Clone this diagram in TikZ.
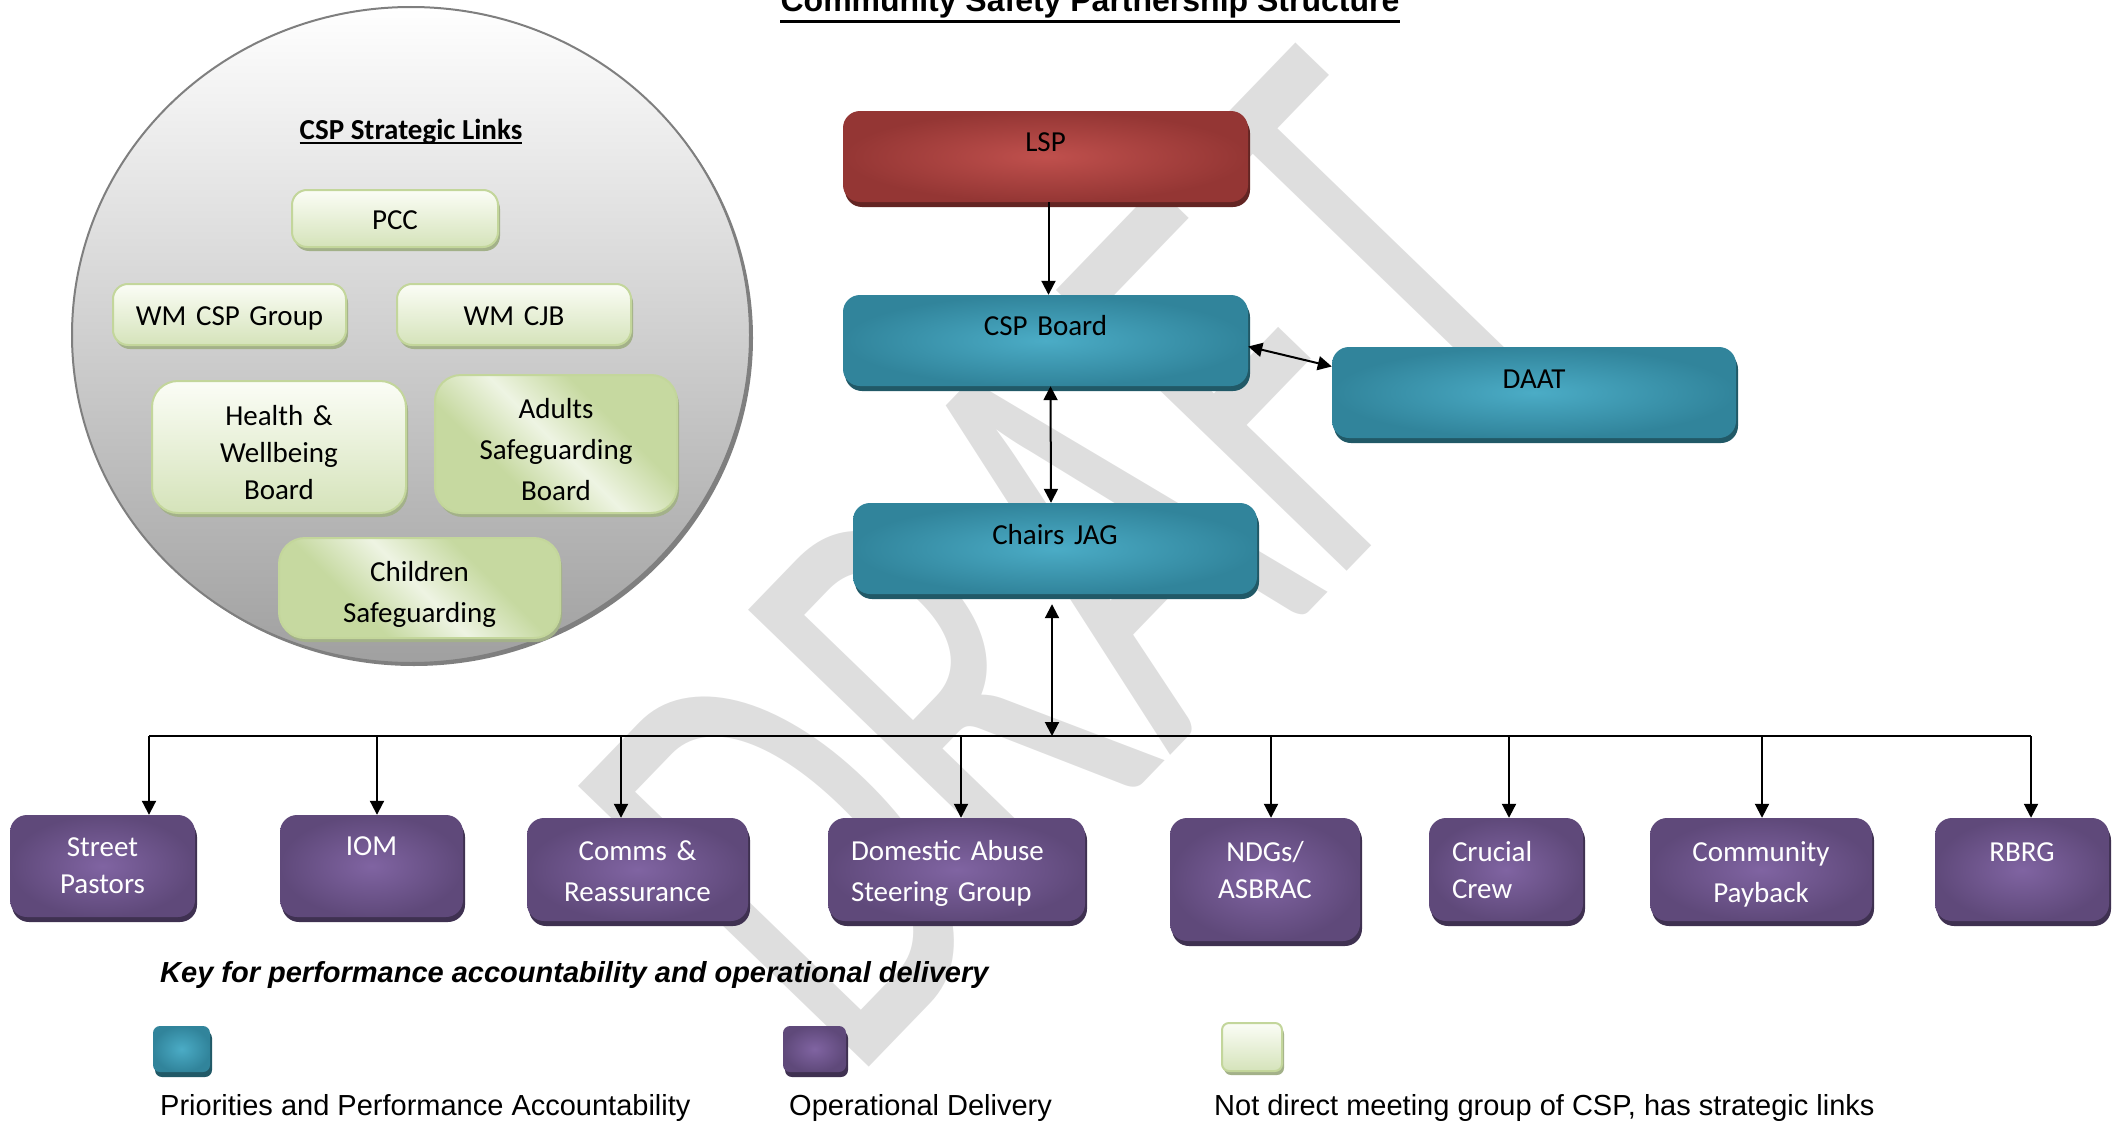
\documentclass[tikz,border=0pt]{standalone}
\usepackage{fontspec}
\setmainfont{Carlito}
\newfontfamily\arialfont{Liberation Sans}
\usetikzlibrary{arrows.meta,shadows}

\definecolor{aqualight}{HTML}{4BACC6}
\definecolor{aquadark}{HTML}{31849B}
\definecolor{aquashadow}{HTML}{215967}
\definecolor{redlight}{HTML}{C0504D}
\definecolor{reddark}{HTML}{943634}
\definecolor{redshadow}{HTML}{632523}
\definecolor{purplelight}{HTML}{8064A2}
\definecolor{purpledark}{HTML}{5F497A}
\definecolor{purpleshadow}{HTML}{3F3151}
\definecolor{greenlight}{HTML}{FBFDF6}
\definecolor{greenmid}{HTML}{D5E3BA}
\definecolor{greendeep}{HTML}{C6D9A0}
\definecolor{greenpale}{HTML}{EEF4E3}
\definecolor{greenedge}{HTML}{C3D69B}
\definecolor{greenshadow}{HTML}{A3B189}
\definecolor{watermark}{HTML}{DEDEDE}
\definecolor{circlegrey}{HTML}{A0A0A0}
\definecolor{circleedge}{HTML}{7F7F7F}

\pgfdeclarehorizontalshading{greenband}{100bp}{color(0bp)=(greendeep); color(35bp)=(greendeep);
  color(50bp)=(greenpale); color(65bp)=(greendeep); color(100bp)=(greendeep)}

\tikzset{
  textsize/.style n args={3}{text width=#1pt, text height=#2pt, text depth=#3pt},
  boxbase/.style={rectangle, rounded corners=17pt, inner sep=0pt, align=center,
    font=\fontsize{29}{37}\selectfont},
  widelines/.style={font=\fontsize{29}{41}\selectfont},
  tealbox/.style={boxbase, inner color=aqualight, outer color=aquadark,
    drop shadow={shadow xshift=2pt, shadow yshift=-5pt, fill=aquashadow, opacity=1}},
  redbox/.style={boxbase, inner color=redlight, outer color=reddark,
    drop shadow={shadow xshift=2pt, shadow yshift=-5pt, fill=redshadow, opacity=1}},
  purplebox/.style={boxbase, text=white, inner color=purplelight, outer color=purpledark,
    drop shadow={shadow xshift=2pt, shadow yshift=-5pt, fill=purpleshadow, opacity=1}},
  greenbox/.style={boxbase, rounded corners=15pt, draw=greenedge, line width=2pt,
    top color=greenlight, bottom color=greenmid,
    drop shadow={shadow xshift=2pt, shadow yshift=-4pt, fill=greenshadow, opacity=1}},
  greenband/.style={greenbox, rounded corners=26pt, shading=greenband, shading angle=45},
  link/.style={line width=2pt, -{Triangle[length=14pt,width=14pt]}},
  twolink/.style={line width=2pt, {Triangle[length=14pt,width=14pt]}-{Triangle[length=14pt,width=14pt]}},
}

\begin{document}
\begin{tikzpicture}[x=1pt, y=-1pt]
\useasboundingbox (0,0) rectangle (2123,1124);
\clip (0,0) rectangle (2123,1124);

% watermark behind everything
\node[anchor=base west, inner sep=0pt, text=watermark, rotate=46, xscale=0.63,
  font=\fontsize{630}{630}\selectfont] (draft) at (850,1087) {DRAFT};

% title
\node[anchor=base, inner sep=0pt, font=\arialfont\fontsize{32}{38}\selectfont\bfseries] (title) at (1090,12)
  {Community Safety Partnership Structure};
\draw[line width=3pt] ([yshift=-10pt]title.base west) -- ([yshift=-10pt]title.base east);

% strategic links
\draw[top color=white, bottom color=circlegrey, draw=circleedge, line width=2pt,
  drop shadow={shadow xshift=3pt, shadow yshift=-3pt, fill=circleedge, opacity=1}]
  (411,335) ellipse [x radius=339pt, y radius=328pt];
\node[anchor=base, inner sep=0pt, font=\fontsize{29}{37}\selectfont\bfseries] (links) at (411,139)
  {CSP Strategic Links};
\draw[line width=2pt] ([yshift=-4pt]links.base west) -- ([yshift=-4pt]links.base east);

\node[greenbox, textsize={206}{39}{18}] (pcc) at (395,218.5) {PCC};
\node[greenbox, textsize={233}{41}{20}] (wmcsp) at (229.5,314.5) {WM CSP Group};
\node[greenbox, textsize={234}{41}{20}] (wmcjb) at (514,314.5) {WM CJB};
\node[greenbox, rounded corners=26pt, textsize={254}{44}{88}] (health) at (279,447)
  {Health \&\\Wellbeing\\Board};
\node[greenband, widelines, textsize={242}{43}{95}] (adults) at (556,444)
  {Adults\\Safeguarding\\Board};
\node[greenband, widelines, textsize={281}{43}{57}] (children) at (419.5,588)
  {Children\\Safeguarding};

% partnership structure
\node[redbox, textsize={405}{40}{51}] (lsp) at (1045.5,156.5) {LSP};
\node[tealbox, textsize={405}{40}{51}] (csp) at (1045.5,340.5) {CSP Board};
\node[tealbox, textsize={404}{41}{50}] (daat) at (1534,392.5) {DAAT};
\node[tealbox, textsize={404}{41}{50}] (jag) at (1055,548.5) {Chairs JAG};

\draw[link] ([xshift=3pt]lsp.south) -- ([xshift=3pt]csp.north);
\draw[twolink] ([yshift=-6pt]csp.east) -- ([yshift=26pt]daat.west);
\draw[twolink] ([xshift=5pt]csp.south) -- ([xshift=-4pt]jag.north);

% operational groups
\node[purplebox, textsize={185}{41}{61}] (street) at (102.5,866) {Street\\Pastors};
\node[purplebox, textsize={183}{40}{62}] (iom) at (371.5,866) {IOM};
\node[purplebox, widelines, textsize={221}{42}{61}] (comms) at (637.5,869.5) {Comms \&\\Reassurance};
\node[purplebox, widelines, align=left, inner xsep=23pt, textsize={211}{42}{61}] (domestic) at (956.5,869.5)
  {Domestic Abuse\\Steering Group};
\node[purplebox, textsize={190}{43}{80}] (ndgs) at (1265,879.5) {NDGs/\\ASBRAC};
\node[purplebox, align=left, inner xsep=23pt, textsize={108}{43}{60}] (crucial) at (1506,869.5)
  {Crucial\\Crew};
\node[purplebox, widelines, textsize={222}{43}{60}] (payback) at (1761,869.5) {Community\\Payback};
\node[purplebox, textsize={174}{43}{60}] (rbrg) at (2022,869.5) {RBRG};

\coordinate (busw) at (149,736);
\coordinate (buse) at (2031,736);
\coordinate (jagbus) at (1052,736);
\draw[line width=2pt] (busw) -- (buse);
\draw[twolink, shorten <=10pt] ([xshift=-3pt]jag.south) -- (jagbus);
\foreach \x/\n in {149/street, 377/iom, 621/comms, 961/domestic, 1271/ndgs, 1509/crucial, 1762/payback, 2031/rbrg}
  \draw[link] (\x,736) -- (\x,736 |- \n.north);

% key
\node[anchor=base west, inner sep=0pt, font=\arialfont\fontsize{29}{35}\selectfont\bfseries\itshape] (keytitle)
  at (160,982) {Key for performance accountability and operational delivery};
\node[tealbox, rounded corners=7pt, minimum width=57pt, minimum height=46pt] (keyteal) at (181.5,1049) {};
\node[purplebox, rounded corners=7pt, minimum width=63pt, minimum height=46pt] (keypurple) at (814.5,1049) {};
\node[greenbox, rounded corners=7pt, minimum width=60pt, minimum height=48pt] (keygreen) at (1252,1047) {};
\node[anchor=base west, inner sep=0pt, font=\arialfont\fontsize{29}{35}\selectfont] (keytealtext)
  at (160,1115) {Priorities and Performance Accountability};
\node[anchor=base west, inner sep=0pt, font=\arialfont\fontsize{29}{35}\selectfont] (keypurpletext)
  at (789,1115) {Operational Delivery};
\node[anchor=base west, inner sep=0pt, font=\arialfont\fontsize{29}{35}\selectfont] (keygreentext)
  at (1214,1115) {Not direct meeting group of CSP, has strategic links};
\end{tikzpicture}
\end{document}
